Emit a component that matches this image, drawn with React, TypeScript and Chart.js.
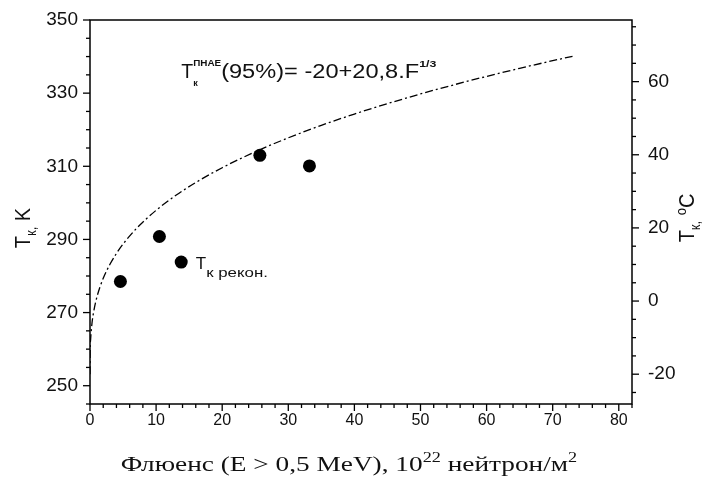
import { useEffect, useRef } from 'react';
import { Chart, registerables } from 'chart.js';

Chart.register(...registerables);

// Reconstructed brittleness transition temperatures, K
const fluence = [4.6, 10.5, 13.8, 25.7, 33.2];
const tkReconK = [278.5, 290.8, 283.8, 313.0, 310.1];

// Normative curve T = -20 + 20.8·F^(1/3) °C, tabulated in K
const curveF = [0, 0.02, 0.1, 0.3, 0.6, 1, 1.5, 2, 3, 4, 5, 7, 10, 13, 16, 20, 25, 30, 35, 40, 45, 50, 55, 60, 65, 70, 73];
const curveK = [
  253.15, 258.8, 262.8, 267.07, 270.69, 273.95, 276.96, 279.36, 283.15, 286.17, 288.72, 292.94, 297.96,
  302.06, 305.56, 309.61, 313.97, 317.78, 321.19, 324.29, 327.13, 329.78, 332.25, 334.58, 336.78, 338.87, 340.08,
];

// Axis ticks
const xTickLabels = [0, 10, 20, 30, 40, 50, 60, 70, 80];
const kTickLabels = [250, 270, 290, 310, 330, 350];
const cTickLabels = [-20, 0, 20, 40, 60];

const X_MAX = 82;
const K_MIN = 245;
const K_MAX = 350;
const KELVIN = 273.15;
const X_MINOR = 2;
const K_MINOR = 5;
const C_MINOR = 5;

const SANS = '"Liberation Sans", Arial, sans-serif';
const SERIF = '"Liberation Serif", "Times New Roman", serif';

type Seg = {
  text: string;
  size: number;
  weight?: string;
  family?: string;
  dy?: number;
  sx?: number;
  hold?: boolean;
};

function segWidth(ctx: CanvasRenderingContext2D, s: Seg) {
  ctx.font = `${s.weight || 'normal'} ${s.size}px ${s.family || SANS}`;
  return ctx.measureText(s.text).width * (s.sx ?? 1);
}

function richWidth(ctx: CanvasRenderingContext2D, segs: Seg[]) {
  let w = 0;
  for (const s of segs) if (!s.hold) w += segWidth(ctx, s);
  return w;
}

function drawRich(ctx: CanvasRenderingContext2D, segs: Seg[], x: number, y: number) {
  let cx = x;
  ctx.textAlign = 'left';
  ctx.textBaseline = 'alphabetic';
  for (const s of segs) {
    const w = segWidth(ctx, s);
    ctx.save();
    ctx.translate(cx, y + (s.dy ?? 0));
    ctx.scale(s.sx ?? 1, 1);
    ctx.fillText(s.text, 0, 0);
    ctx.restore();
    if (!s.hold) cx += w;
  }
}

const decorPlugin = {
  id: 'decor',
  afterDraw(chart: Chart) {
    const ctx = chart.ctx;
    const { left, right, top, bottom } = chart.chartArea;
    const xs = chart.scales.x;
    const ys = chart.scales.y;
    const yc = chart.scales.yC;

    ctx.save();
    ctx.strokeStyle = '#000';
    ctx.fillStyle = '#000';
    ctx.lineWidth = 1.5;
    ctx.strokeRect(left, top, right - left, bottom - top);

    ctx.lineWidth = 1.3;
    const line = (x1: number, y1: number, x2: number, y2: number) => {
      ctx.beginPath();
      ctx.moveTo(x1, y1);
      ctx.lineTo(x2, y2);
      ctx.stroke();
    };

    // bottom axis ticks
    for (let v = 0; v <= X_MAX + 1e-6; v += X_MINOR) {
      const px = xs.getPixelForValue(v);
      const major = xTickLabels.includes(v);
      line(px, bottom, px, bottom + (major ? 7 : 4));
    }
    // left axis ticks (K)
    for (let v = K_MIN; v <= K_MAX + 1e-6; v += K_MINOR) {
      const py = ys.getPixelForValue(v);
      const major = kTickLabels.includes(v);
      line(left - (major ? 7 : 4), py, left, py);
    }
    // right axis ticks (°C)
    const cMin = K_MIN - KELVIN;
    const cMax = K_MAX - KELVIN;
    for (let v = Math.ceil(cMin / C_MINOR) * C_MINOR; v <= cMax + 1e-6; v += C_MINOR) {
      const py = yc.getPixelForValue(v);
      const major = cTickLabels.includes(v);
      line(right, py, right + (major ? 7 : 4), py);
    }

    ctx.fillStyle = '#111';

    // left axis title
    const leftTitle: Seg[] = [
      { text: 'T', size: 20 },
      { text: 'к,', size: 13, dy: 5 },
      { text: ' K', size: 20 },
    ];
    ctx.save();
    ctx.translate(30, 228);
    ctx.scale(1.12, 1);
    ctx.rotate(-Math.PI / 2);
    drawRich(ctx, leftTitle, -richWidth(ctx, leftTitle) / 2, 0);
    ctx.restore();

    // right axis title
    const rightTitle: Seg[] = [
      { text: 'T', size: 20 },
      { text: 'к,', size: 13, dy: 5 },
      { text: ' ', size: 20 },
      { text: 'o', size: 13, dy: -7 },
      { text: 'C', size: 20 },
    ];
    ctx.save();
    ctx.translate(694, 218);
    ctx.scale(1.12, 1);
    ctx.rotate(-Math.PI / 2);
    drawRich(ctx, rightTitle, -richWidth(ctx, rightTitle) / 2, 0);
    ctx.restore();

    // bottom axis title
    const bottomTitle: Seg[] = [
      { text: 'Флюенс (E > 0,5 MeV), 10', size: 21, family: SERIF, sx: 1.3 },
      { text: '22', size: 14, family: SERIF, dy: -9, sx: 1.3 },
      { text: ' нейтрон/м', size: 21, family: SERIF, sx: 1.3 },
      { text: '2', size: 14, family: SERIF, dy: -9, sx: 1.3 },
    ];
    const bw = richWidth(ctx, bottomTitle);
    drawRich(ctx, bottomTitle, (left + right) / 2 - 12 - bw / 2, 471);

    // formula annotation
    const formula: Seg[] = [
      { text: 'T', size: 19.5 },
      { text: 'к', size: 9, weight: 'bold', dy: 8, hold: true },
      { text: 'ПНАЕ', size: 9, weight: 'bold', dy: -12, sx: 1.1 },
      { text: '(95%)= -20+20,8.F', size: 19.5, sx: 1.21 },
      { text: '1/3', size: 9.5, weight: 'bold', dy: -11, sx: 1.3 },
    ];
    drawRich(ctx, formula, xs.getPixelForValue(13.8), ys.getPixelForValue(334.2));

    // label of the reconstructed points
    const recon: Seg[] = [
      { text: 'T', size: 17 },
      { text: 'к рекон.', size: 13.5, dy: 8, sx: 1.25 },
    ];
    drawRich(ctx, recon, xs.getPixelForValue(16.0), ys.getPixelForValue(281.8));

    ctx.restore();
  },
};

// Keep the plot frame where the axes' own sizes put it, without label overhang padding
const noOverhang = (s: any) => {
  s.paddingTop = 0;
  s.paddingBottom = 0;
  s.paddingLeft = 0;
  s.paddingRight = 0;
};

export default function App() {
  const ref = useRef<HTMLCanvasElement>(null);

  useEffect(() => {
    const canvas = ref.current;
    if (!canvas) return;
    document.body.style.margin = '0';

    const curve = curveF.map((f, i) => ({ x: f, y: curveK[i] }));
    const points = fluence.map((f, i) => ({ x: f, y: tkReconK[i] }));

    const chart = new Chart(canvas, {
      type: 'scatter',
      data: {
        datasets: [
          {
            label: 'ПНАЕ',
            data: curve,
            showLine: true,
            borderColor: '#000',
            borderWidth: 1.3,
            borderDash: [8, 3, 2, 3],
            pointRadius: 0,
            cubicInterpolationMode: 'monotone',
            yAxisID: 'y',
          },
          {
            label: 'рекон.',
            data: points,
            showLine: false,
            pointRadius: 6.5,
            pointBackgroundColor: '#000',
            pointBorderColor: '#000',
            pointBorderWidth: 0,
            yAxisID: 'y',
          },
        ],
      },
      options: {
        responsive: false,
        animation: false,
        devicePixelRatio: 1,
        layout: { padding: { top: 20, left: 0, right: 0, bottom: 0 } },
        plugins: {
          legend: { display: false },
          tooltip: { enabled: false },
        },
        scales: {
          x: {
            type: 'linear',
            position: 'bottom',
            min: 0,
            max: X_MAX,
            grid: { display: false, drawTicks: false },
            border: { display: false },
            ticks: { font: { size: 16, family: SANS }, color: '#111', padding: 7, maxRotation: 0 },
            afterBuildTicks: (s: any) => {
              s.ticks = xTickLabels.map((v) => ({ value: v }));
            },
            afterFit: (s: any) => {
              s.height = 79;
              noOverhang(s);
            },
          },
          y: {
            type: 'linear',
            position: 'left',
            min: K_MIN,
            max: K_MAX,
            grid: { display: false, drawTicks: false },
            border: { display: false },
            ticks: { font: { size: 19, family: SANS }, color: '#111', padding: 12 },
            afterBuildTicks: (s: any) => {
              s.ticks = kTickLabels.map((v) => ({ value: v }));
            },
            afterFit: (s: any) => {
              s.width = 90;
              noOverhang(s);
            },
          },
          yC: {
            type: 'linear',
            position: 'right',
            min: K_MIN - KELVIN,
            max: K_MAX - KELVIN,
            grid: { display: false, drawTicks: false },
            border: { display: false },
            ticks: { font: { size: 19, family: SANS }, color: '#111', padding: 16 },
            afterBuildTicks: (s: any) => {
              s.ticks = cTickLabels.map((v) => ({ value: v }));
            },
            afterFit: (s: any) => {
              s.width = 71;
              noOverhang(s);
            },
          },
        },
      },
      plugins: [decorPlugin],
    });

    return () => chart.destroy();
  }, []);

  return (
    <div style={{ position: 'fixed', left: 0, top: 0, width: 703, height: 483, background: '#fff' }}>
      <canvas ref={ref} width={703} height={483} style={{ width: 703, height: 483, display: 'block' }} />
    </div>
  );
}
